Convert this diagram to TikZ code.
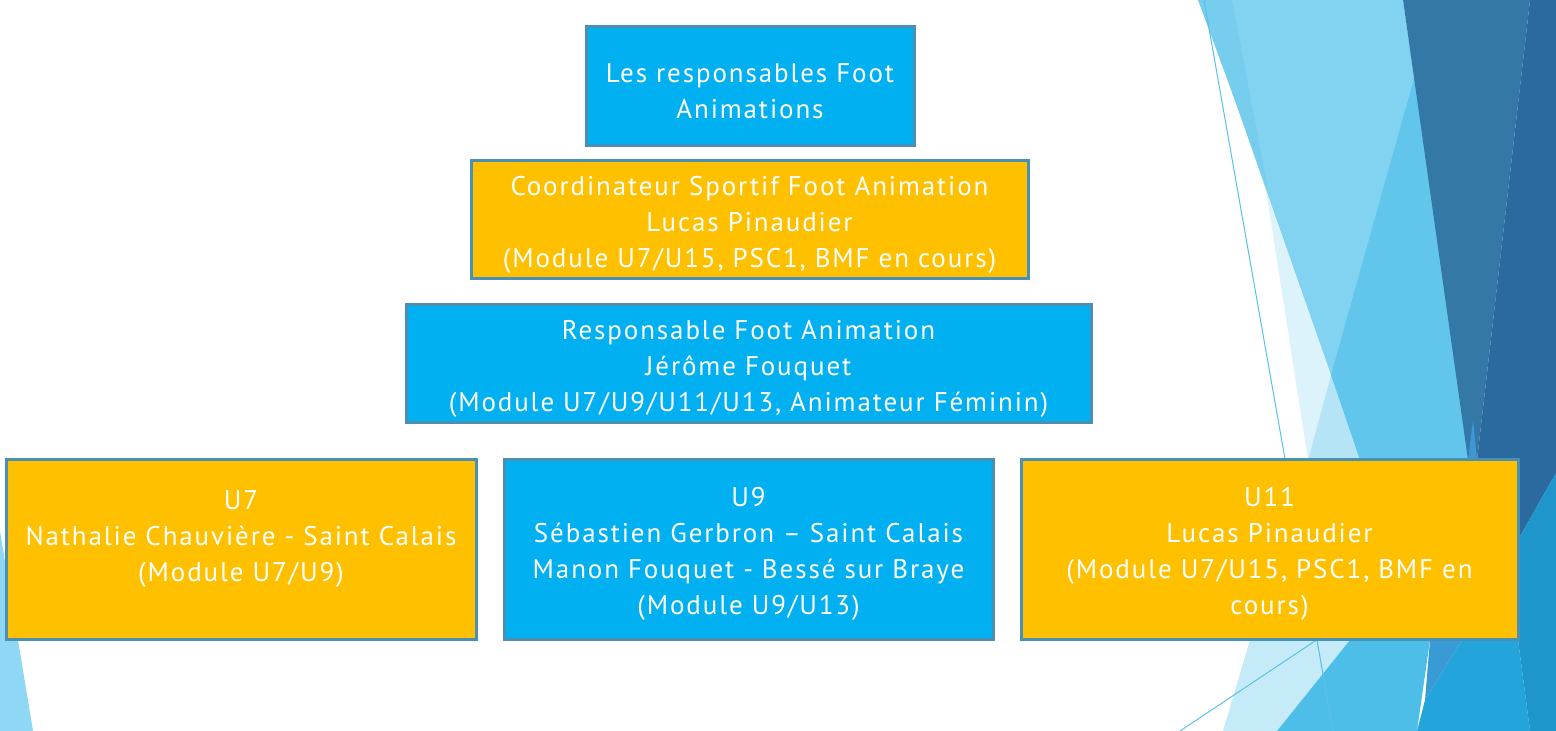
\documentclass[tikz,border=0pt]{standalone}
\usepackage{fontspec}
\setmainfont{PT Sans}[LetterSpace=7]
\usepackage{tikz}
\usetikzlibrary{calc}

\definecolor{boxblue}{HTML}{00B0F0}
\definecolor{boxorange}{HTML}{FFC000}
\definecolor{boxedge}{HTML}{4A90B5}
% facet colours
\definecolor{facetleft}{HTML}{8ED8F5}
\definecolor{facetlight}{HTML}{82D3F1}
\definecolor{facetband}{HTML}{76CDEE}
\definecolor{facetpale}{HTML}{DDF3FB}
\definecolor{facetsoft}{HTML}{B5E4F6}
\definecolor{facetmid}{HTML}{62C6EC}
\definecolor{facetsteel}{HTML}{3478A8}
\definecolor{facetsliver}{HTML}{3F96D2}
\definecolor{facetdark}{HTML}{2A6A9E}
\definecolor{facetpalelow}{HTML}{C5EAF8}
\definecolor{facetmidlow}{HTML}{4DBEE8}
\definecolor{facetdeep}{HTML}{23A5DC}
\definecolor{facetdeepsliver}{HTML}{3A9AD5}
\definecolor{facetcorner}{HTML}{1E96CC}
\definecolor{facetline}{HTML}{5BC0E8}

\tikzset{
  orgbox/.style={draw=boxedge, line width=1.5pt, text=white, align=center,
    inner sep=0pt, font=\fontsize{13.5}{18}\selectfont,
    execute at begin node={\rule{0pt}{14pt}}},
  bluebox/.style={orgbox, fill=boxblue},
  orangebox/.style={orgbox, fill=boxorange}
}

\begin{document}
\begin{tikzpicture}[x=0.5pt, y=-0.5pt]
    \useasboundingbox (0,0) rectangle (1556,731);

    % Background facets on the right
    \fill[white] (0,0) rectangle (1556,731);
    \fill[facetleft] (0,531) -- (33,731) -- (0,731) -- cycle;
    \fill[facetlight] (1200,0) -- (1403,0) -- (1470,460) -- (1360,460) -- cycle;
    \fill[facetband] (1198,0) -- (1232,0) -- (1268,190) -- cycle;
    \fill[facetpale] (1266,190) -- (1331,375) -- (1308,460) -- cycle;
    \fill[facetsoft] (1331,375) -- (1360,460) -- (1308,460) -- cycle;
    \fill[facetmid] (1415,75) -- (1470,460) -- (1360,460) -- (1331,375) -- cycle;
    \fill[facetsteel] (1403,0) -- (1530,0) -- (1477,460) -- (1468,460) -- cycle;
    \fill[facetsliver] (1468,460) -- (1477,460) -- (1473,420) -- cycle;
    \fill[facetdark] (1530,0) -- (1556,0) -- (1556,473) -- (1518,540) -- (1518,460) -- (1477,460) -- cycle;
    \fill[facetpalelow] (1250,640) -- (1350,640) -- (1277,731) -- (1223,731) -- cycle;
    \fill[facetmidlow] (1350,640) -- (1430,640) -- (1417,731) -- (1277,731) -- cycle;
    \fill[facetdeep] (1425,700) -- (1462,640) -- (1518,640) -- (1530,731) -- (1417,731) -- cycle;
    \fill[facetdeepsliver] (1430,640) -- (1462,640) -- (1425,700) -- cycle;
    \fill[facetcorner] (1518,540) -- (1556,473) -- (1556,731) -- (1530,731) -- (1518,640) -- cycle;
    \draw[facetline, line width=0.5pt] (1204,0) -- (1333,731);
    \draw[facetline, line width=0.5pt] (1180,731) -- (1330,631);

    % Box centres
    \coordinate (T) at (750,86.5);
    \coordinate (C) at (749.5,220);
    \coordinate (R) at (748.5,364);
    \coordinate (A) at (241,549.5);
    \coordinate (B) at (748.5,549.5);
    \coordinate (D) at (1269.5,549.5);

    % Boxes
    \node[bluebox, text width=160pt, minimum width=164pt, minimum height=59.5pt] (top) at (T)
        {Les responsables Foot\\Animations};
    \node[orangebox, text width=274pt, minimum width=278.5pt, minimum height=59pt] (coord) at (C)
        {Coordinateur Sportif Foot Animation\\Lucas Pinaudier\\(Module U7/U15, PSC1, BMF en cours)};
    \node[bluebox, text width=338pt, minimum width=342.5pt, minimum height=59pt] (resp) at (R)
        {Responsable Foot Animation\\Jérôme Fouquet\\(Module U7/U9/U11/U13, Animateur Féminin)};
    \node[orangebox, text width=231pt, minimum width=235pt, minimum height=89.5pt] (u7) at (A)
        {U7\\Nathalie Chauvière - Saint Calais\\(Module U7/U9)\\~};
    \node[bluebox, text width=240pt, minimum width=244.5pt, minimum height=89.5pt] (u9) at (B)
        {U9\\Sébastien Gerbron – Saint Calais\\Manon Fouquet - Bessé sur Braye\\(Module U9/U13)};
    \node[orangebox, text width=244pt, minimum width=248.5pt, minimum height=89.5pt] (u11) at (D)
        {U11\\Lucas Pinaudier\\(Module U7/U15, PSC1, BMF en\\cours)};

\end{tikzpicture}
\end{document}
